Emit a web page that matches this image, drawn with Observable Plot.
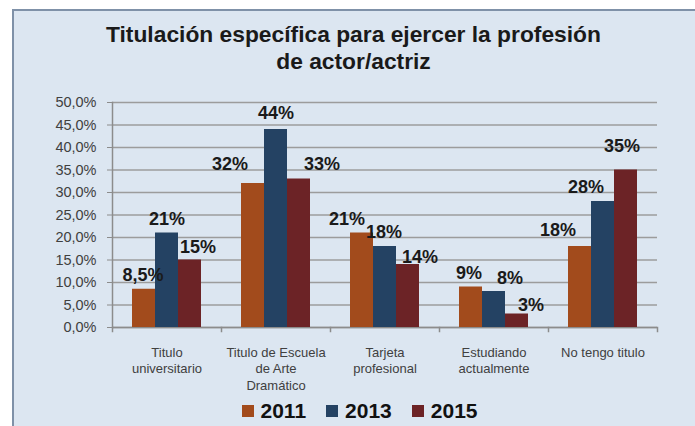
<!DOCTYPE html>
<html><head><meta charset="utf-8">
<script src="https://cdn.jsdelivr.net/npm/d3@7"></script>
<script src="https://cdn.jsdelivr.net/npm/@observablehq/plot@0.6"></script>
<style>
html,body{margin:0;padding:0;background:#fff;width:695px;height:426px;overflow:hidden;font-family:"Liberation Sans",Arial,sans-serif;}
#panel{position:absolute;left:12px;top:9px;width:683px;height:417px;background:#DCE6F1;border-top:2px solid #7F91A8;border-left:2px solid #7F91A8;box-sizing:border-box;}
#title{position:absolute;left:12px;width:683px;top:21px;text-align:center;font-weight:bold;font-size:22.8px;line-height:27px;color:#1a1a1a;}
#chart{position:absolute;left:0;top:80px;}
#legend{position:absolute;left:18px;width:683px;top:400px;height:22px;display:flex;justify-content:center;align-items:center;font-weight:bold;font-size:21px;color:#111;}
#legend .item{display:flex;align-items:center;margin:0 10px;}
#legend .sw{width:12px;height:12px;margin-right:7px;}
</style></head>
<body>
<div id="panel"></div>
<div id="title">Titulación específica para ejercer la profesión<br>de actor/actriz</div>
<div id="chart"></div>
<div id="legend"></div>
<script>
const categories = ["Titulo universitario","Titulo de Escuela de Arte Dramático","Tarjeta profesional","Estudiando actualmente","No tengo titulo"];
const categoryLabels = ["Titulo\nuniversitario","Titulo de Escuela\nde Arte\nDramático","Tarjeta\nprofesional","Estudiando\nactualmente","No tengo titulo"];
const years = ["2011","2013","2015"];
const values2011 = [8.5, 32, 21, 9, 18];
const values2013 = [21, 44, 18, 8, 28];
const values2015 = [15, 33, 14, 3, 35];
const yTicks = [0,5,10,15,20,25,30,35,40,45,50];
const colors = ["#A24B1C","#244263","#6C2326"];

// label nudges (pixels) per year, per category
const labelDx = [[-1,-23,-15,-2,-22],[0,0,-1,16,-17],[8,23,12,14,-4]];
const labelDy = [[-14,-19,-14,-14,-16],[-14,-16,-14,-13,-14],[-13,-15,-7,-9,-24]];

const series = [values2011, values2013, values2015];
const rows = [];
years.forEach((yr, yi) => categories.forEach((c, ci) => rows.push({cat: c, year: yr, value: series[yi][ci], yi, ci})));

const pct = v => (Number.isInteger(v) ? String(v) : String(v).replace(".", ",")) + "%";

const labelMarks = rows.map(r => Plot.text([r], {
  fx: "cat", x: "year", y: "value", text: d => pct(d.value),
  dx: labelDx[r.yi][r.ci], dy: labelDy[r.yi][r.ci],
  fontSize: 18, fontWeight: "bold", fill: "#1a1a1a"
}));

const chart = Plot.plot({
  width: 695, height: 320,
  marginLeft: 112, marginRight: 38, marginTop: 22, marginBottom: 73,
  style: {background: "transparent", fontFamily: "'Liberation Sans', Arial, sans-serif", color: "#404040"},
  fx: {domain: categories, padding: 0, axis: null},
  x: {domain: years, paddingInner: 0, paddingOuter: 0.85, axis: null},
  y: {domain: [0, 50]},
  color: {domain: years, range: colors},
  marks: [
    Plot.gridY(yTicks, {stroke: "#9C9C9C", strokeOpacity: 1, strokeWidth: 1.3}),
    Plot.ruleY([0], {stroke: "#8C8C8C", strokeWidth: 1.5}),
    Plot.frame({anchor: "left", facetAnchor: "left", stroke: "#8C8C8C", strokeWidth: 1.5}),
    Plot.frame({anchor: "left", stroke: "#8C8C8C", strokeWidth: 1.5, insetTop: 225, insetBottom: -4}),
    Plot.frame({anchor: "right", facetAnchor: "right", stroke: "#8C8C8C", strokeWidth: 1.5, insetTop: 225, insetBottom: -4}),
    Plot.barY(rows, {fx: "cat", x: "year", y: "value", fill: "year"}),
    Plot.axisY({ticks: yTicks, tickFormat: d => d.toFixed(1).replace(".", ",") + "%", tickSize: 5, tickPadding: 11, fontSize: 14.5, label: null, stroke: "#8C8C8C"}),
    Plot.axisFx({anchor: "bottom", tickSize: 0, tickPadding: 17, fontSize: 13, lineHeight: 1.3, label: null,
      tickFormat: d => categoryLabels[categories.indexOf(d)]}),
    ...labelMarks
  ]
});
document.getElementById("chart").appendChild(chart);

const legend = document.getElementById("legend");
years.forEach((y, i) => {
  const it = document.createElement("div"); it.className = "item";
  const sw = document.createElement("div"); sw.className = "sw"; sw.style.background = colors[i];
  const t = document.createElement("span"); t.textContent = y;
  it.appendChild(sw); it.appendChild(t); legend.appendChild(it);
});
</script>
</body></html>
